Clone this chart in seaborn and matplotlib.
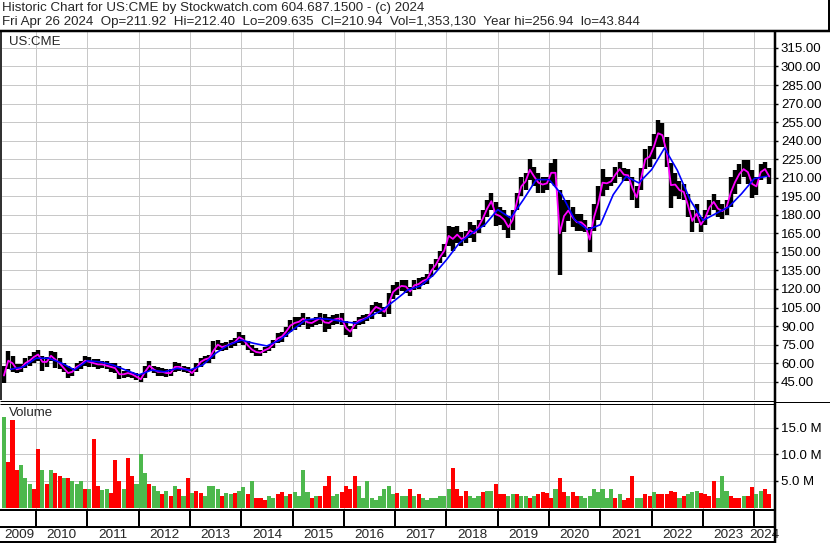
import matplotlib
matplotlib.use('Agg')
import matplotlib.pyplot as plt
from matplotlib.lines import Line2D
import pandas as pd
import seaborn as sns

# monthly high / low of the price bars, May 2009 .. Apr 2024
month_hi = [58, 70, 66, 59, 59, 64, 66, 69,
            71, 66, 65, 70, 69, 64, 60, 58, 56, 60, 62, 66,
            65, 63, 63, 62, 62, 60, 60, 58, 54, 55, 53, 52,
            51, 58, 61.5, 58, 57, 56, 55, 55, 61, 60, 58, 57,
            55, 60, 64.5, 66, 67, 78, 78.5, 76, 77, 78.5, 80, 85,
            82.8, 78, 74.5, 72, 71, 73, 74.5, 78.5, 84, 85.5, 89.5, 95,
            97.6, 97.6, 100.5, 97.6, 96, 97.6, 100.5, 100, 97.6, 98.8, 100, 100.5,
            94.5, 90, 94.5, 97.6, 98.8, 100, 107, 109.7, 108.4, 105.7, 117, 123,
            126, 127, 127, 121.7, 127, 128.5, 130, 132, 140, 144, 151, 156,
            171, 170, 171, 166, 167, 174, 171.5, 175.7, 183.8, 192, 198, 190,
            186, 184, 179, 184, 198, 211, 214, 225, 219, 214, 211, 211,
            222, 225, 200, 192, 192, 186, 181, 181, 176, 170, 189, 203,
            217, 211, 211, 219, 223, 218, 217, 211, 203, 218, 233, 235.5,
            245, 257, 254, 243, 222, 214, 207, 205, 197, 184, 189, 178,
            184, 192, 197, 192, 189, 192, 210.6, 216, 221, 224, 224, 216,
            210.6, 221.5, 223, 217.5]
month_lo = [44, 55, 53, 52, 53, 56, 58, 60,
            62, 54, 57, 62, 56, 55, 53, 48, 50, 54, 55, 58,
            57, 57, 55, 56, 55, 53, 52, 47, 48, 49, 48, 46.5,
            44.5, 48, 54, 52, 50, 50, 49, 50, 53, 54, 53, 52,
            49.5, 53, 57, 60, 60, 63, 71, 70, 71, 72, 74, 76,
            75, 71, 68, 66, 66, 68, 70, 72, 76, 77, 81.5, 85.5,
            87, 89, 91, 88, 89, 91, 92, 85.5, 88, 91, 92, 91,
            82.7, 81.5, 88, 91, 92, 94, 96, 101.6, 100, 97.6, 100, 112,
            115, 118, 117, 114, 119, 120, 123, 124, 130, 135, 141, 146,
            155, 151, 157, 155, 157, 161, 158, 165, 170, 178, 184, 171,
            172, 168, 161, 168, 184, 195, 200, 208, 203, 198, 198, 200,
            206, 203, 131, 166, 175, 170, 167, 167, 166, 150, 167, 176,
            195, 200, 203, 206, 211, 207, 207, 192, 185.5, 200, 217, 219,
            225, 235, 235, 219, 185.5, 195, 193, 192, 178, 166, 173, 166,
            171.5, 180, 184, 178, 177, 180, 186, 197, 205, 210.6, 205, 194,
            196, 208, 210.6, 205]
# short moving average (magenta), monthly
short_ma = [50, 62, 60, 55, 56, 60, 62, 65,
            67, 61, 61, 66, 63, 60, 56, 52, 53, 57, 59, 62,
            61, 60, 59, 59, 58, 57, 56, 51, 51, 52, 51, 49,
            47, 53, 58, 55, 53, 53, 52, 52, 57, 57, 55.5, 54.5,
            52, 56, 61, 63, 64, 70, 75, 73, 74, 75.5, 77, 81,
            79, 74.5, 71, 69, 68.5, 70.5, 72, 75.5, 80, 81.5, 85.5, 90.5,
            92.5, 93.5, 96, 93, 92.5, 94.5, 96.5, 93, 92.5, 95, 96, 96,
            88.5, 85.5, 91, 94.5, 95.5, 97, 101.5, 105.5, 104, 101.5, 108, 117.5,
            120.5, 122.5, 122, 118, 123, 124, 126.5, 128, 135, 139.5, 146, 151,
            163, 160.5, 164, 160.5, 162, 167.5, 165, 170.5, 177, 185, 191, 180.5,
            179, 176, 170, 176, 191, 203, 207, 216.5, 211, 206, 204.5, 205.5,
            214, 214, 165, 179, 183.5, 178, 174, 174, 171, 160, 178, 189.5,
            206, 205.5, 207, 212.5, 217, 212.5, 212, 201.5, 194, 209, 225, 227,
            235, 246, 244.5, 231, 204, 204.5, 200, 198.5, 187.5, 175, 181, 172,
            177.5, 186, 190.5, 185, 183, 186, 198, 206.5, 213, 217, 214.5, 205,
            203, 214.5, 217, 211]
# long moving average (blue), quarterly from Jul 2009
long_ma = [55, 57,
           64, 64, 60, 54.5,
           62, 61, 58.5, 54.4,
           50.4, 54.4, 53, 55.8,
           54.4, 58.5, 68, 74.7,
           78.7, 76, 73.9, 78.7,
           86.8, 94.9, 96.2, 95.4,
           93.5, 92.2, 97.6, 103,
           111, 119.3, 122.6, 131.5,
           143.6, 157.2, 165.3, 172,
           184.2, 177.4, 192.3, 208.5,
           208.5, 196.3, 176, 168,
           172, 196.3, 211, 205.8,
           216.6, 234, 216, 192,
           175.5, 181, 186.3, 197,
           209.3, 211.2]
# volume in millions, monthly, with bar colour (g = up, r = down)
volume_m = [17, 8.5, 16.5, 7, 8, 5.5, 4.5, 3.5,
            11, 7, 4.5, 7, 6.5, 6, 5.5, 5.5, 5, 4.5, 5, 3.5,
            3.5, 13, 4, 3.3, 3.5, 2.8, 9, 5, 3.5, 9.4, 6, 4.5,
            10, 6.5, 4.5, 4, 3.2, 2.5, 3.2, 2.2, 4, 3.5, 2.2, 5.5,
            2.8, 3.2, 2.8, 2.2, 4, 4, 3.5, 2.2, 2.8, 2.5, 2.8, 3.2,
            3.8, 2.5, 5, 1.8, 1.8, 1.5, 2.2, 1.8, 2.5, 3, 2.2, 2.5,
            3, 2.2, 7, 3, 1.8, 2.2, 2.2, 4, 6, 2.2, 2.5, 3,
            4, 3.5, 6, 4, 1.8, 5, 1.8, 1.5, 2.2, 3.5, 4, 2.5,
            2.8, 2.2, 2.2, 3.5, 2.2, 2.5, 1.8, 1.5, 1.8, 1.8, 2.2, 2.2,
            3.5, 7.5, 3.5, 2.2, 3.2, 2.2, 1.8, 2.2, 3, 3.2, 3.2, 4.5,
            2.5, 2.5, 2.2, 2.5, 2.5, 2.2, 2.2, 1.8, 2.2, 2.5, 3, 2.8,
            1.8, 3.5, 5.5, 3, 2.2, 3, 2.2, 2.2, 1.8, 2.2, 3.5, 3,
            3.5, 1.8, 3.5, 1.8, 2.5, 1.5, 1.8, 6, 1.8, 1.8, 2.5, 2.2,
            3, 2.5, 2.5, 2.5, 3.2, 3, 1.8, 2.2, 2.5, 3, 3.2, 2.8,
            2.5, 2.2, 5, 1.8, 6, 3.2, 2.2, 1.8, 1.8, 2.2, 2.2, 3.8,
            2.5, 3.2, 3.5, 2.5]
vol_color = list('grrrgggr'
                 'rgrgrrgrgggr'
                 'grrggrrrgrrg'
                 'ggrggrgrgrgr'
                 'grrggggrggrg'
                 'grgrrrggrrgr'
                 'ggggrgrrrggr'
                 'rrrggggggggg'
                 'rggrgrgggggg'
                 'grrrrgggrggr'
                 'rrggrggrgrrr'
                 'rgrrgrrggggg'
                 'gggrgrrrggrr'
                 'grrrrrgrgggr'
                 'rrrgggrrrgrr'
                 'ggrr')

header1 = 'Historic Chart for US:CME by Stockwatch.com 604.687.1500 - (c) 2024'
header2 = ('Fri Apr 26 2024  Op=211.92  Hi=212.40  Lo=209.635  Cl=210.94  '
           'Vol=1,353,130  Year hi=256.94  lo=43.844')
years = list(range(2009, 2025))
price_ticks = list(range(45, 316, 15))
vol_ticks = [5, 10, 15]

sns.set_style('white')
plt.rcParams['font.family'] = ['Liberation Sans', 'DejaVu Sans']

W, H = 830, 543
PX = 72 / 100  # points per pixel
fig = plt.figure(figsize=(W / 100, H / 100), dpi=100)


def box(x0, y0, x1, y1):
    return [x0 / W, 1 - y1 / H, (x1 - x0) / W, (y1 - y0) / H]


def fline(xs, ys, lw, color='black'):
    fig.add_artist(Line2D([x / W for x in xs], [1 - y / H for y in ys],
                          transform=fig.transFigure, color=color,
                          lw=lw * PX, solid_capstyle='butt'))


months = pd.date_range('2009-05-01', periods=len(month_hi), freq='MS')
t_month = months.year + (months.month - 0.5) / 12
quarters = pd.date_range('2009-07-01', periods=len(long_ma), freq='QS')
t_quarter = quarters.year + (quarters.month - 1) / 12
xlim = (2009.337, 2024.384)
grid_kw = dict(color='#c8c8c8', lw=1 * PX)

# price panel
ax = fig.add_axes(box(2, 32, 774, 400))
ax.vlines(t_month, month_lo, month_hi, color='black', lw=4.4 * PX)
sns.lineplot(x=t_month, y=short_ma, color='#ff00ff', lw=1.3, ax=ax)
sns.lineplot(x=t_quarter, y=long_ma, color='#0000ff', lw=1.2, ax=ax)
ax.set_xlim(xlim)
ax.set_ylim(30.2, 327.9)
ax.set_xticks(years[1:])
ax.set_yticks(price_ticks)
ax.set_yticklabels([f'{v:.2f}' for v in price_ticks])
ax.grid(True, **grid_kw)
ax.set_axisbelow(True)
ax.yaxis.tick_right()
ax.tick_params(axis='y', right=True, length=3, width=1, pad=2, labelsize=9.5,
               colors='black')
ax.tick_params(axis='x', bottom=False, labelbottom=False)
ax.text(7 / 772, 1 - 10 / 368, 'US:CME', transform=ax.transAxes,
        fontsize=9.5, va='center')

# volume panel
ax2 = fig.add_axes(box(2, 403, 774, 510))
ax2.bar(t_month, volume_m, width=0.95 / 12, linewidth=0,
        color=['#4db84d' if c == 'g' else '#ff0000' for c in vol_color])
ax2.set_xlim(xlim)
ax2.set_ylim(-0.47, 19.7)
ax2.set_xticks(years[1:])
ax2.set_yticks(vol_ticks)
ax2.set_yticklabels([f'{v:.1f} M' for v in vol_ticks])
ax2.grid(True, **grid_kw)
ax2.set_axisbelow(True)
ax2.yaxis.tick_right()
ax2.tick_params(axis='y', right=True, length=3, width=1, pad=2, labelsize=9.5,
                colors='black')
ax2.tick_params(axis='x', bottom=False, labelbottom=False)
ax2.text(7 / 772, 1 - 10 / 107, 'Volume', transform=ax2.transAxes,
         fontsize=9.5, va='center')

# year separator band
ax3 = fig.add_axes(box(2, 510, 774, 527))
ax3.set_xlim(xlim)
ax3.set_xticks(years[1:])
ax3.grid(True, axis='x', color='black', lw=2 * PX)
ax3.tick_params(bottom=False, labelbottom=False, left=False, labelleft=False)

# year labels
ax4 = fig.add_axes(box(2, 527, 774, 543))
ax4.set_xlim(xlim)
ax4.set_ylim(0, 1)
ax4.axis('off')
for yr in years:
    lo_, hi_ = max(yr, xlim[0]), min(yr + 1, xlim[1])
    ax4.text((lo_ + hi_) / 2, 0.5, str(yr), ha='center', va='center',
             fontsize=9.7)

for a in (ax, ax2, ax3):
    for s in a.spines.values():
        s.set_visible(False)

# header text and frame lines
fig.text(2 / W, 1 - 8 / H, header1, fontsize=9.6, va='center')
fig.text(2 / W, 1 - 22 / H, header2, fontsize=9.6, va='center')
fline([0, 830], [30.8, 30.8], 2.5)
fline([828.5, 828.5], [0, 31], 2)
fline([774.5, 774.5], [31, 543], 2.5)
fline([0.8, 0.8], [31, 400], 1.6)
fline([0, 774], [401, 401], 1)
fline([0, 774], [403.5, 403.5], 1)
fline([775, 830], [402, 402], 1)
fline([0, 774], [510, 510], 2)
fline([0, 774], [526.8, 526.8], 2)
fline([0, 774], [542, 542], 2)

fig.savefig('out.png', dpi=100, facecolor='white')
